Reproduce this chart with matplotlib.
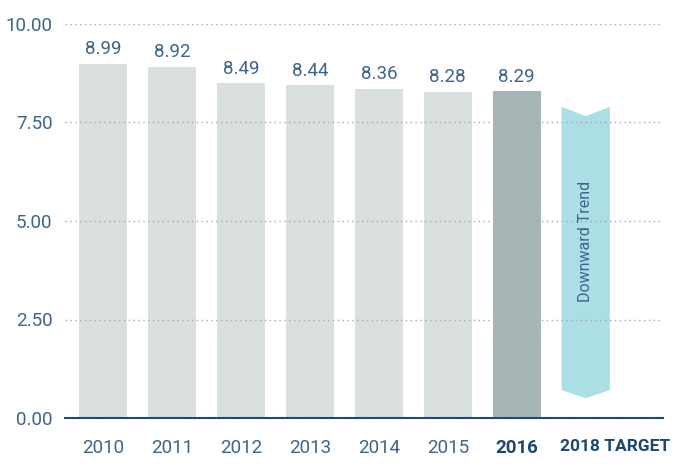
import matplotlib
matplotlib.use("Agg")
import matplotlib.pyplot as plt
from matplotlib.patches import Polygon

years = ["2010", "2011", "2012", "2013", "2014", "2015", "2016", "2018 TARGET"]
values = [8.99, 8.92, 8.49, 8.44, 8.36, 8.28, 8.29]
trend_top = 7.9       # top corners of the target arrow
trend_notch = 7.66    # notch at top centre
trend_body = 0.71     # where the point begins
trend_tip = 0.5       # bottom point
trend_label = "Downward Trend"
trend_label_y = 4.49
yticks = [0, 2.5, 5, 7.5, 10]

plt.rcParams["font.family"] = ["Roboto", "DejaVu Sans"]

text_col = "#3f6488"
navy = "#1d4670"
bar_col = "#dae0e0"
hi_col = "#a8b5b6"
arrow_col = "#acdee5"

fig = plt.figure(figsize=(6.78, 4.74), dpi=100)
ax = fig.add_axes([65 / 678, 1 - 418 / 474, (663 - 65) / 678, (418 - 24) / 474])

x = list(range(len(values)))
colors = [bar_col] * (len(values) - 1) + [hi_col]
w = 0.70
ax.bar(x, values, width=w, color=colors, zorder=1)

for xi, v in zip(x, values):
    ax.annotate(f"{v:.2f}", (xi, v), xytext=(0, 4), textcoords="offset points",
                ha="center", va="bottom", fontsize=13.5, color=text_col)

# target arrow
t = len(values)
h = w / 2
pts = [(t - h, trend_top), (t, trend_notch), (t + h, trend_top),
       (t + h, trend_body), (t, trend_tip), (t - h, trend_body)]
ax.add_patch(Polygon(pts, closed=True, facecolor=arrow_col, edgecolor="none", zorder=1))
ax.text(t, trend_label_y, trend_label, rotation=90, ha="center", va="center",
        fontsize=11.5, color=text_col, zorder=3)

ax.set_xlim(-0.55, 8.12)
ax.set_ylim(0, 10)
ax.set_yticks(yticks)
ax.set_yticklabels([f"{v:.2f}" for v in yticks])
# last label starts at the left edge of the target arrow
ax.set_xticks(x + [t - h - 0.03])
ax.set_xticklabels(years)

ax.tick_params(axis="both", length=0, labelsize=13.5, labelcolor=text_col)
ax.tick_params(axis="x", pad=15)
ax.tick_params(axis="y", pad=9)
xl = ax.get_xticklabels()
for lbl in xl[-2:]:
    lbl.set_fontweight("bold")
    lbl.set_color(navy)
xl[-1].set_fontsize(12.5)
xl[-1].set_horizontalalignment("left")

ax.yaxis.grid(True, linestyle=(0, (1, 2.5)), color="#a8a8a8", linewidth=1)
ax.set_axisbelow(False)
for s in ["top", "right", "left"]:
    ax.spines[s].set_visible(False)
ax.spines["bottom"].set_color(navy)
ax.spines["bottom"].set_linewidth(1.5)

fig.savefig("out.png", dpi=100)
